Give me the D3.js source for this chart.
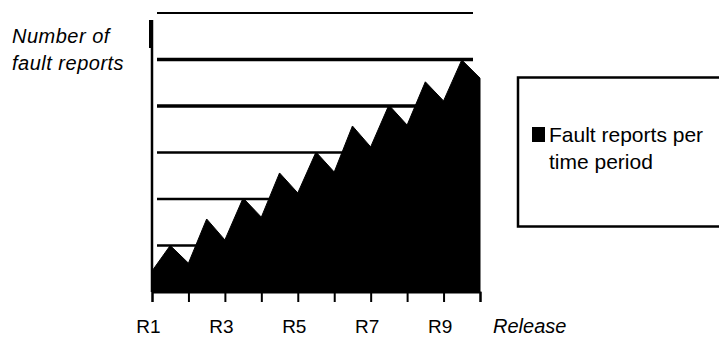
<!DOCTYPE html>
<html>
<head>
<meta charset="utf-8">
<script src="https://cdn.jsdelivr.net/npm/d3@7"></script>
<style>
  html, body { margin: 0; padding: 0; background: #fff; }
  svg { display: block; }
  text { font-family: "Liberation Sans", Arial, sans-serif; fill: #000; }
</style>
</head>
<body>
<svg id="chart" width="719" height="339"></svg>
<script>
// ---- data ----
const releases = ["R1","R2","R3","R4","R5","R6","R7","R8","R9","R10"];
const tickLabels = ["R1","","R3","","R5","","R7","","R9",""];
// fault reports per time period, two periods per release (index in half-releases)
const periodIndex = [0,0.5,1,1.5,2,2.5,3,3.5,4,4.5,5,5.5,6,6.5,7,7.5,8,8.5,9];
const faultReports = [4.5,10,6.2,15.7,11.2,20.2,16.1,25.6,21.3,30.1,25.8,35.7,31.2,40.2,35.9,45.2,41.1,49.9,46.0];
const gridValues = [10,20,30,40,50,60];
const gridWidths = [2.5,2.5,2.5,3.5,3.5,2];
const yLabelLines = ["Number of","fault reports"];
const xTitle = "Release";
const legendLines = ["Fault reports per","time period"];

// ---- scales ----
const svg = d3.select("#chart");
const x = d3.scaleLinear().domain([0, releases.length - 1]).range([152, 480]);
const y = d3.scaleLinear().domain([0, 60]).range([292, 13]);

// gridlines
svg.append("g").selectAll("line").data(gridValues).join("line")
  .attr("x1", 157).attr("x2", 473)
  .attr("y1", d => y(d)).attr("y2", d => y(d))
  .attr("stroke", "#000")
  .attr("stroke-width", (d, i) => gridWidths[i]);

// area
const pts = periodIndex.map((p, i) => [p, faultReports[i]]);
const area = d3.area()
  .x(d => x(d[0]))
  .y0(y(0))
  .y1(d => y(d[1]));
svg.append("path").datum(pts)
  .attr("d", area)
  .attr("fill", "#000")
  .attr("stroke", "#000")
  .attr("stroke-width", 1);

// y axis line
svg.append("line").attr("x1", 152).attr("x2", 152)
  .attr("y1", 20).attr("y2", y(0))
  .attr("stroke", "#000").attr("stroke-width", 2.5);
svg.append("line").attr("x1", 150.5).attr("x2", 150.5)
  .attr("y1", 20).attr("y2", 48)
  .attr("stroke", "#000").attr("stroke-width", 3);

// x axis
const xAxis = d3.axisBottom(x)
  .tickValues(d3.range(releases.length))
  .tickSize(10)
  .tickFormat(i => tickLabels[i]);
const gx = svg.append("g").attr("transform", `translate(0,${y(0)})`).call(xAxis);
gx.select(".domain").attr("stroke", "#000").attr("stroke-width", 2);
gx.selectAll(".tick line").attr("stroke", "#000").attr("stroke-width", 2);
gx.selectAll(".tick text")
  .attr("font-size", 19)
  .attr("font-family", "'Liberation Sans', Arial, sans-serif")
  .attr("fill", "#000")
  .attr("y", 41)
  .attr("dy", 0)
  .attr("dx", -4);

// x title
svg.append("text").attr("x", 493).attr("y", 333)
  .attr("font-size", 20).attr("font-style", "italic")
  .text(xTitle);

// y title
svg.append("g").selectAll("text").data(yLabelLines).join("text")
  .attr("x", 12).attr("y", (d, i) => 43 + i * 27)
  .attr("font-size", 20).attr("font-style", "italic")
  .attr("letter-spacing", 0.5)
  .text(d => d);

// legend
const lg = svg.append("g");
lg.append("rect").attr("x", 518).attr("y", 77.5).attr("width", 230).attr("height", 149)
  .attr("fill", "#fff").attr("stroke", "#000").attr("stroke-width", 2.5);
lg.append("rect").attr("x", 532).attr("y", 127).attr("width", 13).attr("height", 15)
  .attr("fill", "#000");
lg.selectAll("text.lt").data(legendLines).join("text")
  .attr("class", "lt")
  .attr("x", 549).attr("y", (d, i) => 142 + i * 27)
  .attr("font-size", 21)
  .text(d => d);
</script>
</body>
</html>
